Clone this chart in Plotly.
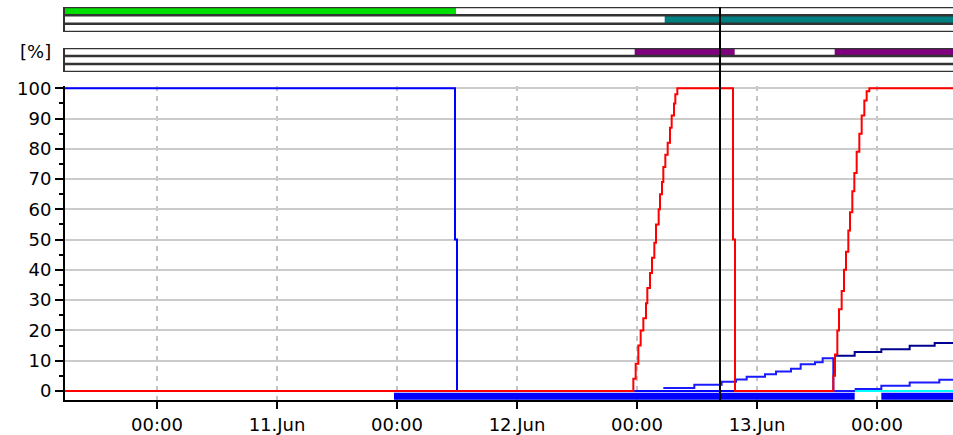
import pandas as pd
import plotly.graph_objects as go

# ---- time axis -------------------------------------------------------------
X_START, X_END = "2024-06-10 14:48", "2024-06-14 07:36"
tick_times = ["2024-06-11 00:00", "2024-06-11 12:00", "2024-06-12 00:00",
              "2024-06-12 12:00", "2024-06-13 00:00", "2024-06-13 12:00",
              "2024-06-14 00:00"]
tick_labels = ["00:00", "11.Jun", "00:00", "12.Jun", "00:00", "13.Jun", "00:00"]
cursor_time = "2024-06-13 08:18"

# ---- analog series [%] -------------------------------------------------------
level_t = ["2024-06-10 12:00", "2024-06-12 05:48", "2024-06-12 06:00", "2024-06-14 08:00"]
level_v = [100, 50, 0, 0]

valve_t = ["2024-06-10 12:00",
           "2024-06-12 23:38", "2024-06-12 23:52", "2024-06-13 00:08", "2024-06-13 00:22",
           "2024-06-13 00:38", "2024-06-13 00:54", "2024-06-13 01:02", "2024-06-13 01:18",
           "2024-06-13 01:30", "2024-06-13 01:44", "2024-06-13 01:54", "2024-06-13 02:10",
           "2024-06-13 02:18", "2024-06-13 02:30", "2024-06-13 02:38", "2024-06-13 02:50",
           "2024-06-13 03:04", "2024-06-13 03:18", "2024-06-13 03:28", "2024-06-13 03:42",
           "2024-06-13 03:50", "2024-06-13 04:02",
           "2024-06-13 09:36", "2024-06-13 09:48",
           "2024-06-13 19:38", "2024-06-13 19:48", "2024-06-13 20:02", "2024-06-13 20:12",
           "2024-06-13 20:28", "2024-06-13 20:42", "2024-06-13 20:54", "2024-06-13 21:08",
           "2024-06-13 21:18", "2024-06-13 21:32", "2024-06-13 21:44", "2024-06-13 21:58",
           "2024-06-13 22:14", "2024-06-13 22:28", "2024-06-13 22:44", "2024-06-13 22:58",
           "2024-06-13 23:14", "2024-06-14 08:00"]
valve_v = [0,
           4, 9, 15, 20, 24, 29, 34, 39, 44, 49, 55, 60, 65, 69, 74, 78, 82, 87, 91, 95, 98, 100,
           50, 0,
           5, 12, 20, 27, 33, 40, 46, 53, 59, 66, 72, 79, 85, 91, 96, 99, 100, 100]

flow_t = ["2024-06-13 02:38", "2024-06-13 05:44", "2024-06-13 08:28", "2024-06-13 09:54",
          "2024-06-13 10:58", "2024-06-13 12:48", "2024-06-13 13:54", "2024-06-13 15:24",
          "2024-06-13 16:22", "2024-06-13 17:48", "2024-06-13 18:34", "2024-06-13 19:38",
          "2024-06-13 21:46"]
flow_v = [1, 2, 3, 3.8, 4.7, 5.5, 6.4, 7.3, 8.8, 9.5, 10.8, 0, 0]

total_t = ["2024-06-13 19:42", "2024-06-13 21:46", "2024-06-14 00:26", "2024-06-14 03:16",
           "2024-06-14 05:46", "2024-06-14 08:00"]
total_v = [11.6, 12.9, 13.8, 14.9, 15.8, 15.8]

flow2_t = ["2024-06-13 21:46", "2024-06-14 00:26", "2024-06-14 03:16", "2024-06-14 06:14",
           "2024-06-14 08:00"]
flow2_v = [0.6, 1.7, 2.8, 3.7, 3.7]

zero_t = ["2024-06-13 21:46", "2024-06-14 08:00"]
zero_v = [0, 0]

# ---- on/off periods ----------------------------------------------------------
run_start = ["2024-06-11 23:42", "2024-06-14 00:26"]
run_end = ["2024-06-13 21:46", "2024-06-14 08:00"]

green_start, green_end = ["2024-06-10 12:00"], ["2024-06-12 05:54"]
teal_start, teal_end = ["2024-06-13 02:46"], ["2024-06-14 08:00"]
purple_start = ["2024-06-12 23:46", "2024-06-13 19:46"]
purple_end = ["2024-06-13 09:46", "2024-06-14 08:00"]

BAND_Y = -1.75  # bottom running band, drawn just under the zero line
STRIP_LINE = "#333333"


def periods_to_line(starts, ends, y):
    xs, ys = [], []
    for s, e in zip(starts, ends):
        xs += [s, e, None]
        ys += [y, y, None]
    return xs, ys


def strip_bar(starts, ends, row, color, xa, ya):
    s = pd.to_datetime(starts)
    e = pd.to_datetime(ends)
    dur = [(b - a).total_seconds() * 1000 for a, b in zip(s, e)]
    return go.Bar(y=[row] * len(starts), x=dur, base=list(starts), orientation="h",
                  width=1, marker=dict(color=color, line=dict(width=0)),
                  xaxis=xa, yaxis=ya, hoverinfo="skip")


fig = go.Figure()

bx, by = periods_to_line(run_start, run_end, BAND_Y)
fig.add_trace(go.Scatter(x=bx, y=by, mode="lines", line=dict(color="#0000ff", width=7),
                         connectgaps=False))
fig.add_trace(go.Scatter(x=level_t, y=level_v, mode="lines", line_shape="hv",
                         line=dict(color="#0000ff", width=2)))
fig.add_trace(go.Scatter(x=zero_t, y=zero_v, mode="lines", line=dict(color="#00ffff", width=2)))
fig.add_trace(go.Scatter(x=flow_t, y=flow_v, mode="lines", line_shape="hv",
                         line=dict(color="#1a1aff", width=2)))
fig.add_trace(go.Scatter(x=flow2_t, y=flow2_v, mode="lines", line_shape="hv",
                         line=dict(color="#1a1aff", width=2)))
fig.add_trace(go.Scatter(x=total_t, y=total_v, mode="lines", line_shape="hv",
                         line=dict(color="#000090", width=2)))
fig.add_trace(go.Scatter(x=valve_t, y=valve_v, mode="lines", line_shape="hv",
                         line=dict(color="#ff0000", width=2)))

# status strips
fig.add_trace(strip_bar(green_start, green_end, 2.5, "#00e000", "x2", "y2"))
fig.add_trace(strip_bar(teal_start, teal_end, 1.5, "#008080", "x2", "y2"))
fig.add_trace(strip_bar(purple_start, purple_end, 2.5, "#800080", "x3", "y3"))

strip_axis = dict(range=[0, 3], showticklabels=False, ticks="", showgrid=False,
                  showline=True, linecolor=STRIP_LINE, linewidth=2, zeroline=False,
                  fixedrange=True)

# row separators of the two strip panels
shapes = []
for yref in ("y2", "y3"):
    for k in range(4):
        shapes.append(dict(type="line", xref="paper", yref=yref, x0=0, x1=1, y0=k, y1=k,
                           line=dict(color=STRIP_LINE, width=2.5), layer="above"))
shapes.append(dict(type="line", xref="x", yref="paper", x0=cursor_time, x1=cursor_time,
                   y0=0, y1=1, line=dict(color="black", width=2), layer="above"))

fig.update_layout(
    width=953, height=435,
    margin=dict(l=65, r=0, t=7, b=35),
    paper_bgcolor="white", plot_bgcolor="white",
    showlegend=False, barmode="overlay",
    font=dict(family="DejaVu Sans", size=18, color="black"),
    xaxis=dict(type="date", range=[X_START, X_END], tickvals=tick_times,
               ticktext=tick_labels, ticks="outside", ticklen=7, tickwidth=2,
               tickcolor="black", showline=True, linecolor="black", linewidth=2,
               showgrid=True, gridcolor="#c4c4c4", gridwidth=1.5, griddash="5px,5px",
               zeroline=False, anchor="y"),
    yaxis=dict(domain=[0, 0.799], range=[-3, 100.76], tickvals=list(range(0, 101, 10)),
               ticks="outside", ticklen=8, tickwidth=2, tickcolor="black",
               showline=True, linecolor="black", linewidth=2,
               showgrid=True, gridcolor="#cbcbcb", gridwidth=1.5, zeroline=False,
               minor=dict(ticks="outside", ticklen=4, tickwidth=2, dtick=5, tick0=0,
                          tickcolor="black", showgrid=False)),
    xaxis2=dict(type="date", matches="x", anchor="y2", visible=False),
    yaxis2=dict(domain=[0.9364, 1.0], anchor="x2", **strip_axis),
    xaxis3=dict(type="date", matches="x", anchor="y3", visible=False),
    yaxis3=dict(domain=[0.8346, 0.8957], anchor="x3", **strip_axis),
    shapes=shapes,
    annotations=[dict(text="[%]", xref="paper", yref="paper", x=-0.014, y=0.8855,
                      xanchor="right", yanchor="middle", showarrow=False,
                      font=dict(size=18))],
)

fig.write_html("out.html")
